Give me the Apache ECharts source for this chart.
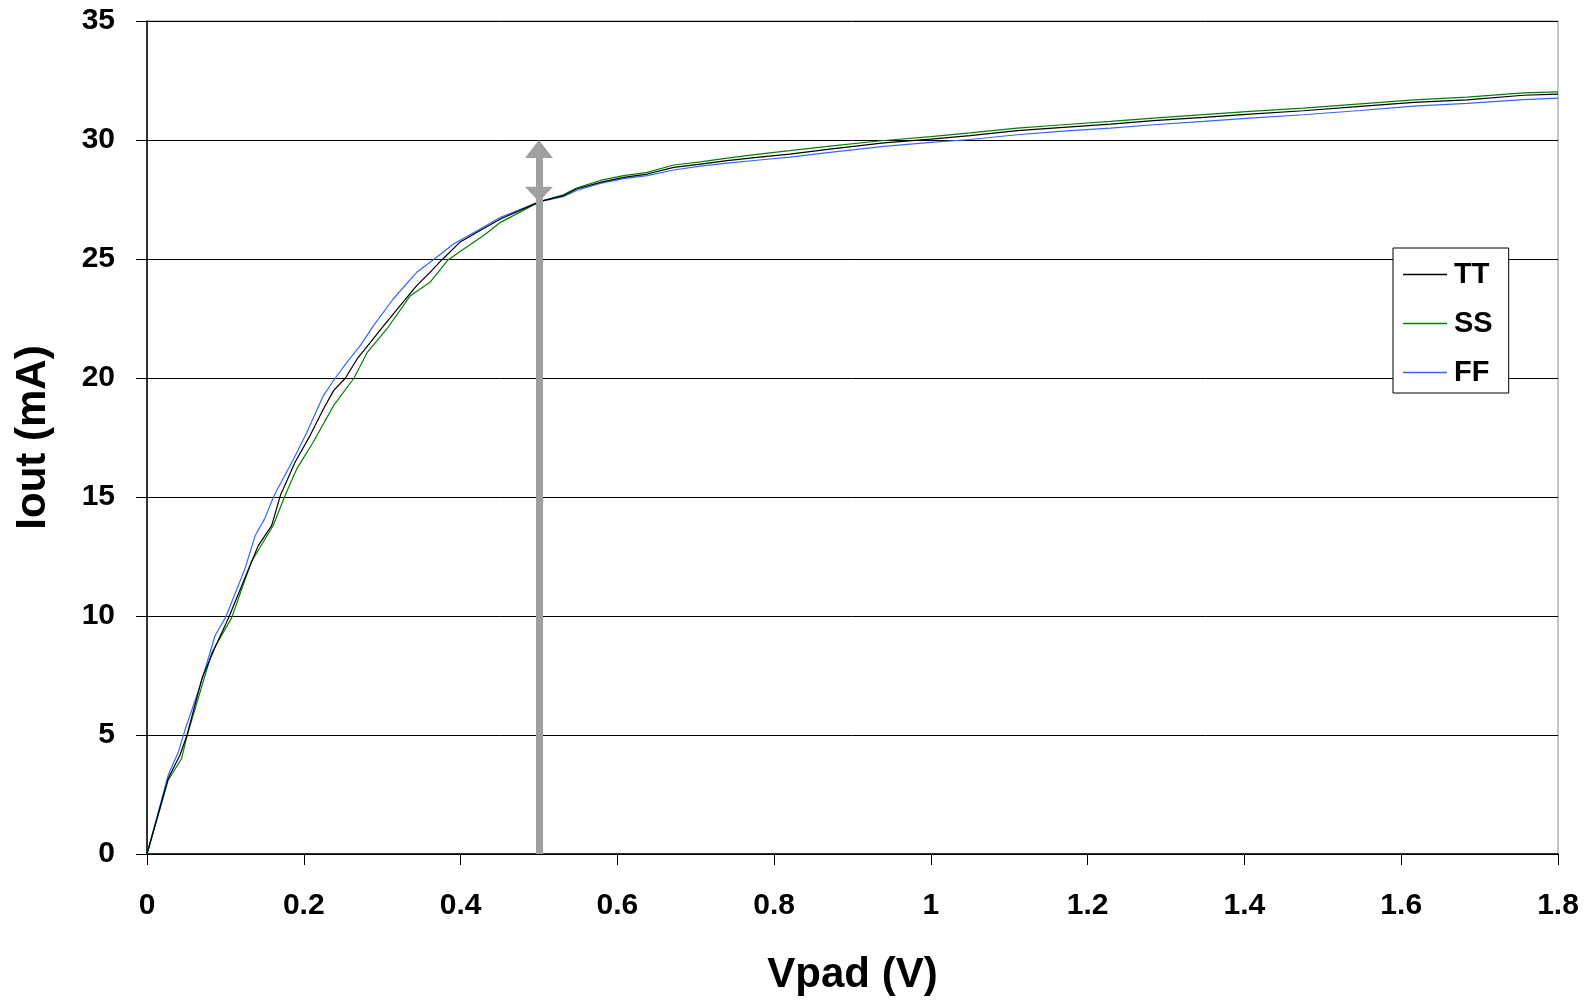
<!DOCTYPE html>
<html>
<head>
<meta charset="utf-8">
<script src="https://cdn.jsdelivr.net/npm/echarts@6/dist/echarts.min.js"></script>
<style>
  html, body { margin: 0; padding: 0; background: #fff; }
  #chart { width: 1594px; height: 1001px; }
</style>
</head>
<body>
<div id="chart"></div>
<script>
// corner curves, [Vpad (V), Iout (mA)]
var ttData = [[0,0],[0.027,3.17],[0.042,4.15],[0.051,4.99],[0.070,7.37],[0.087,8.70],[0.104,9.92],[0.121,11.28],[0.142,12.96],[0.159,13.8],[0.170,15.05],[0.189,16.47],[0.208,17.58],[0.225,18.70],[0.238,19.47],[0.253,19.99],[0.268,20.80],[0.285,21.50],[0.302,22.20],[0.323,23.04],[0.344,23.88],[0.361,24.44],[0.376,24.96],[0.399,25.70],[0.421,26.12],[0.451,26.68],[0.501,27.41],[0.531,27.66],[0.548,27.94],[0.578,28.22],[0.608,28.43],[0.638,28.57],[0.672,28.85],[0.706,28.99],[0.740,29.13],[0.778,29.27],[0.820,29.41],[0.871,29.62],[0.940,29.88],[1.0,30.04],[1.050,30.18],[1.110,30.39],[1.169,30.53],[1.229,30.67],[1.284,30.81],[1.348,30.95],[1.407,31.09],[1.475,31.23],[1.548,31.41],[1.616,31.58],[1.684,31.69],[1.756,31.88],[1.8,31.93]];
var ssData = [[0,0],[0.027,3.1],[0.044,4.0],[0.051,4.95],[0.083,8.49],[0.108,9.92],[0.133,12.27],[0.161,13.8],[0.176,15.05],[0.191,16.18],[0.212,17.30],[0.238,18.84],[0.264,19.99],[0.281,21.08],[0.306,22.06],[0.336,23.46],[0.361,24.02],[0.384,24.96],[0.404,25.42],[0.429,25.98],[0.451,26.54],[0.501,27.41],[0.531,27.70],[0.548,27.98],[0.578,28.30],[0.608,28.50],[0.638,28.64],[0.672,28.95],[0.706,29.08],[0.740,29.24],[0.778,29.40],[0.820,29.55],[0.871,29.74],[0.940,29.98],[1.0,30.14],[1.050,30.30],[1.110,30.50],[1.169,30.64],[1.229,30.78],[1.284,30.92],[1.348,31.07],[1.407,31.20],[1.475,31.34],[1.548,31.52],[1.616,31.69],[1.684,31.80],[1.756,31.98],[1.8,32.02]];
var ffData = [[0,0],[0.027,3.31],[0.040,4.29],[0.049,5.27],[0.068,7.09],[0.087,9.19],[0.100,9.92],[0.125,11.99],[0.138,13.38],[0.150,14.08],[0.162,15.05],[0.187,16.6],[0.204,17.72],[0.225,19.26],[0.240,19.99],[0.255,20.66],[0.272,21.36],[0.289,22.20],[0.314,23.32],[0.344,24.44],[0.365,24.96],[0.391,25.63],[0.425,26.26],[0.451,26.75],[0.501,27.41],[0.531,27.62],[0.548,27.88],[0.578,28.18],[0.608,28.38],[0.638,28.50],[0.672,28.74],[0.706,28.90],[0.740,29.03],[0.778,29.15],[0.820,29.28],[0.871,29.48],[0.940,29.73],[1.0,29.90],[1.050,30.02],[1.110,30.22],[1.169,30.37],[1.229,30.50],[1.284,30.64],[1.348,30.78],[1.407,30.92],[1.475,31.06],[1.548,31.24],[1.616,31.42],[1.684,31.54],[1.756,31.70],[1.8,31.76]];

// the grey arrow at Vpad = 0.5 V
var arrowV = 0.5;
var arrowFrom = 0;
var arrowTop = 30;
var arrowCurve = 27.41;

var FONT = '"Liberation Sans", Arial, sans-serif';
var ARROW = '#a0a0a0';

var myChart = echarts.init(document.getElementById('chart'));

var option = {
  backgroundColor: '#ffffff',
  animation: false,
  grid: {
    left: 147, right: 36, top: 21, bottom: 146,
    show: true,
    borderColor: '#8c8c8c',
    borderWidth: 1
  },
  legend: {
    orient: 'vertical',
    left: 1393, top: 248,
    padding: [12, 16, 6, 10],
    borderColor: '#000',
    borderWidth: 1,
    backgroundColor: '#fff',
    itemWidth: 44,
    itemHeight: 1.5,
    itemGap: 20,
    textStyle: { fontFamily: FONT, fontWeight: 'bold', fontSize: 29, lineHeight: 28, color: '#000', padding: [0, 0, 0, 2] },
    data: [
      { name: 'TT', icon: 'rect' },
      { name: 'SS', icon: 'rect' },
      { name: 'FF', icon: 'rect' }
    ]
  },
  xAxis: {
    type: 'value',
    min: 0, max: 1.8, interval: 0.2,
    name: 'Vpad (V)',
    nameLocation: 'middle',
    nameGap: 100,
    nameTextStyle: { fontFamily: FONT, fontWeight: 'bold', fontSize: 42, color: '#000' },
    axisLine: { show: true, onZero: false, lineStyle: { color: '#000', width: 1.5 } },
    axisTick: { show: true, inside: false, length: 11, lineStyle: { color: '#000' } },
    axisLabel: { margin: 37, fontFamily: FONT, fontWeight: 'bold', fontSize: 30, color: '#000' },
    splitLine: { show: false }
  },
  yAxis: {
    type: 'value',
    min: 0, max: 35, interval: 5,
    name: 'Iout (mA)',
    nameLocation: 'middle',
    nameGap: 93,
    nameTextStyle: { fontFamily: FONT, fontWeight: 'bold', fontSize: 42, color: '#000' },
    axisLine: { show: true, lineStyle: { color: '#000', width: 1.5 } },
    axisTick: { show: true, inside: false, length: 11, lineStyle: { color: '#000' } },
    axisLabel: { margin: 32, fontFamily: FONT, fontWeight: 'bold', fontSize: 30, color: '#000' },
    splitLine: { show: true, lineStyle: { color: '#000', width: 1 } }
  },
  series: [
    {
      name: 'TT', type: 'line', data: ttData,
      symbol: 'none', color: '#000000',
      lineStyle: { width: 1.2, color: '#000000' },
      z: 4
    },
    {
      name: 'SS', type: 'line', data: ssData,
      symbol: 'none', color: '#008000',
      lineStyle: { width: 1.2, color: '#008000' },
      z: 3
    },
    {
      name: 'FF', type: 'line', data: ffData,
      symbol: 'none', color: '#3366ff',
      lineStyle: { width: 1.2, color: '#3366ff' },
      z: 2
    },
    {
      // arrow shaft
      name: 'arrowShaft', type: 'line', data: [],
      symbol: 'none',
      z: 5,
      markLine: {
        silent: true,
        animation: false,
        symbol: ['none', 'none'],
        label: { show: false },
        lineStyle: { color: ARROW, width: 7, type: 'solid' },
        emphasis: { disabled: true },
        data: [
          [{ coord: [arrowV, arrowFrom] }, { coord: [arrowV, arrowTop - 0.4] }]
        ]
      }
    },
    {
      // arrow heads: up at the 30 mA line, down onto the curves
      name: 'arrowHeads', type: 'scatter',
      silent: true,
      z: 6,
      itemStyle: { color: ARROW, opacity: 1 },
      data: [
        { value: [arrowV, arrowTop], symbol: 'triangle', symbolSize: [28, 18], symbolOffset: [0, 9] },
        { value: [arrowV, arrowCurve], symbol: 'triangle', symbolRotate: 180, symbolSize: [28, 15], symbolOffset: [0, -7.5] }
      ]
    }
  ]
};
myChart.setOption(option);
</script>
</body>
</html>
